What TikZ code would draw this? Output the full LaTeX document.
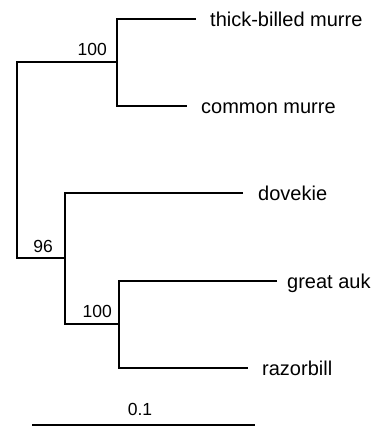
\documentclass[tikz,border=0pt]{standalone}
\usepackage{fontspec}
\setmainfont{Liberation Sans}
\begin{document}
\begin{tikzpicture}[x=1pt,y=-1pt,
  branch/.style={line width=1.7pt},
  taxon/.style={anchor=base west, inner sep=0pt, font=\fontsize{20}{22}\selectfont},
  support/.style={anchor=base east, inner sep=0pt, font=\fontsize{17.5}{20}\selectfont}]
\useasboundingbox (0,0) rectangle (370,426);

% internal nodes of the tree
\coordinate (root)  at (17,160);
\coordinate (murre) at (117,62);
\coordinate (lower) at (65,258);
\coordinate (auk)   at (119,324);

% branch tips
\coordinate (tbm)  at (196,19);
\coordinate (cm)   at (187,106);
\coordinate (dove) at (243,193);
\coordinate (ga)   at (277,281);
\coordinate (rb)   at (248,368);

% taxon labels
\node[taxon] (tbmL)  at (210,26)  {thick-billed murre};
\node[taxon] (cmL)   at (201,113) {common murre};
\node[taxon] (doveL) at (258,200) {dovekie};
\node[taxon] (gaL)   at (287,288) {great auk};
\node[taxon] (rbL)   at (262,375) {razorbill};

% bootstrap support values
\node[support] (s1) at (107,55)  {100};
\node[support] (s2) at (53,252)  {96};
\node[support] (s3) at (112,317) {100};

% branches
\draw[branch] (tbm) -| (murre) |- (cm);
\draw[branch] (dove) -| (lower) |- (auk);
\draw[branch] (ga) -| (auk) |- (rb);
\draw[branch] (murre) -| (root) |- (lower);

% scale bar
\coordinate (bar0) at (32,425);
\coordinate (bar1) at (255,425);
\draw[branch] (bar0) -- (bar1);
\node[support, anchor=base] (barL) at (140,415) {0.1};
\end{tikzpicture}
\end{document}
